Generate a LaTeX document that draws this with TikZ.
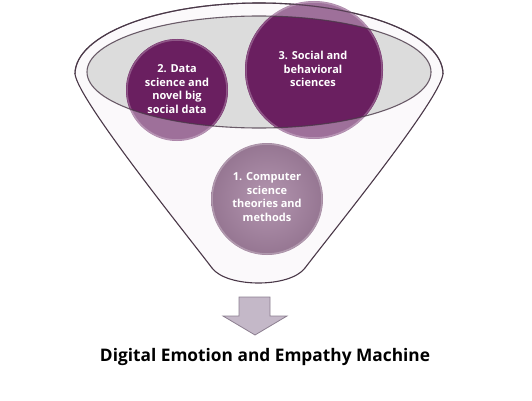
\documentclass[tikz,border=0pt]{standalone}
\usepackage{fontspec}
\setmainfont{Open Sans}

\definecolor{rimline}{HTML}{4A3848}
\definecolor{bowlgray}{HTML}{DCDCDC}
\definecolor{funnelbody}{HTML}{FBF9FB}
\definecolor{topicdark}{HTML}{6A1F60}
\definecolor{topiclight}{HTML}{946290}
\definecolor{topicsoft}{HTML}{A683A2}
\definecolor{arrowfill}{HTML}{C4B8C8}
\definecolor{arrowline}{HTML}{8C7F90}

\begin{document}
\begin{tikzpicture}[x=1pt,y=1pt,
  rim/.style={draw=rimline,line width=1.1pt},
  topic text/.style={align=center,text=white,inner sep=0pt,
    font=\fontsize{11}{13.5}\selectfont\bfseries},
  title text/.style={font=\fontsize{17.3}{20}\selectfont\bfseries}]

    \useasboundingbox (0,0) rectangle (532,400);

    % funnel body
    \draw[rim,fill=funnelbody]
      (75,326) arc[start angle=180,end angle=0,x radius=184,y radius=71]
      .. controls (440,300) and (330,165) .. (305,132)
      .. controls (290,112) and (227,112) .. (212,132)
      .. controls (187,165) and (78,300) .. (75,326) -- cycle;
    \fill[bowlgray] (259,328) ellipse[x radius=172,y radius=56];

    % circles
    \fill[topiclight,opacity=0.9] (177,310) circle[radius=51];
    \fill[topiclight,opacity=0.9] (314,330) circle[radius=69];
    \shade[inner color=topicsoft!85!white, outer color=topicsoft!90!black]
      (267,201) circle[radius=56];
    \begin{scope}
      \clip (259,328) ellipse[x radius=172,y radius=56];
      \fill[topicdark] (177,310) circle[radius=51];
      \fill[topicdark] (314,330) circle[radius=69];
    \end{scope}
    \draw[white,opacity=0.25,line width=1.5pt] (177,310) circle[radius=50];
    \draw[white,opacity=0.25,line width=1.5pt] (314,330) circle[radius=68];
    \draw[white,opacity=0.25,line width=1.5pt] (267,201) circle[radius=55];

    % rims seen through the circles
    \draw[rim,opacity=0.8]
      (75,326) arc[start angle=180,end angle=0,x radius=184,y radius=71];
    \draw[rim,opacity=0.8] (259,328) ellipse[x radius=172,y radius=56];

    \node[topic text] (data) at (177,311) {2. Data\\science and\\novel big\\social data};
    \node[topic text] (social) at (313,331) {3. Social and\\behavioral\\sciences};
    \node[topic text] (computer) at (267,203) {1. Computer\\science\\theories and\\methods};

    % arrow
    \filldraw[fill=arrowfill,draw=arrowline,line width=0.8pt]
      (239,103) -- (270,103) -- (270,84) -- (287,84) -- (255,65)
      -- (223,84) -- (239,84) -- cycle;

    \node[title text] (machine) at (265,43) {Digital Emotion and Empathy Machine};
\end{tikzpicture}
\end{document}
